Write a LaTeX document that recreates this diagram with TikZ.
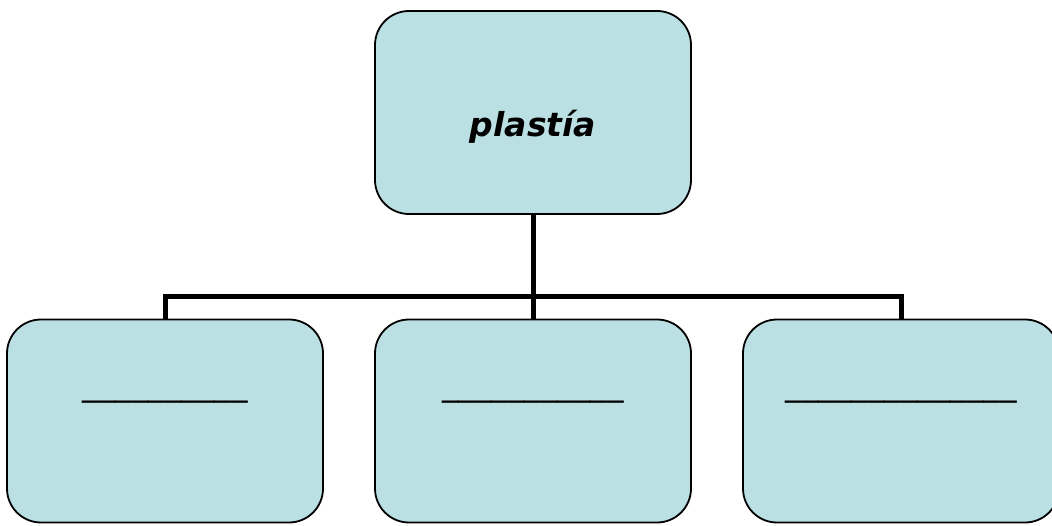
\documentclass[tikz,border=0pt]{standalone}
\usepackage{fontspec}
\setmainfont{DejaVu Sans}
\definecolor{celeste}{HTML}{BBE0E3}
\begin{document}
\begin{tikzpicture}[x=1pt,y=1pt,
    caja/.style={draw=black,line width=1.8pt,fill=celeste,rounded corners=34pt,
                 minimum width=316pt,minimum height=203pt,inner sep=0pt},
    raya/.style={anchor=base,font=\fontsize{33}{36}\selectfont},
    linea/.style={line width=5pt}]

    \useasboundingbox (0,0) rectangle (1052,525);

    % cajas
    \node[caja] (arriba) at (533,412.5) {};
    \node[caja] (izq) at (165,104) {};
    \node[caja] (centro) at (533,104) {};
    \node[caja] (der) at (901,104) {};

    % textos
    \node[anchor=base,font=\fontsize{33}{36}\selectfont\bfseries\itshape] (titulo) at ([yshift=-24pt]arriba.center) {plastía};
    \node[raya] (r1) at ([yshift=25pt]izq.center) {\_\_\_\_\_\_\_\_\_\_};
    \node[raya] (r2) at ([yshift=25pt]centro.center) {\_\_\_\_\_\_\_\_\_\_\_};
    \node[raya] (r3) at ([yshift=25pt]der.center) {\_\_\_\_\_\_\_\_\_\_\_\_\_\_};

    % conectores
    \coordinate (cruce) at (533,228.5);
    \draw[linea] (arriba.south) -- (centro.north);
    \draw[linea] (izq.north) |- (cruce) -| (der.north);

\end{tikzpicture}
\end{document}
